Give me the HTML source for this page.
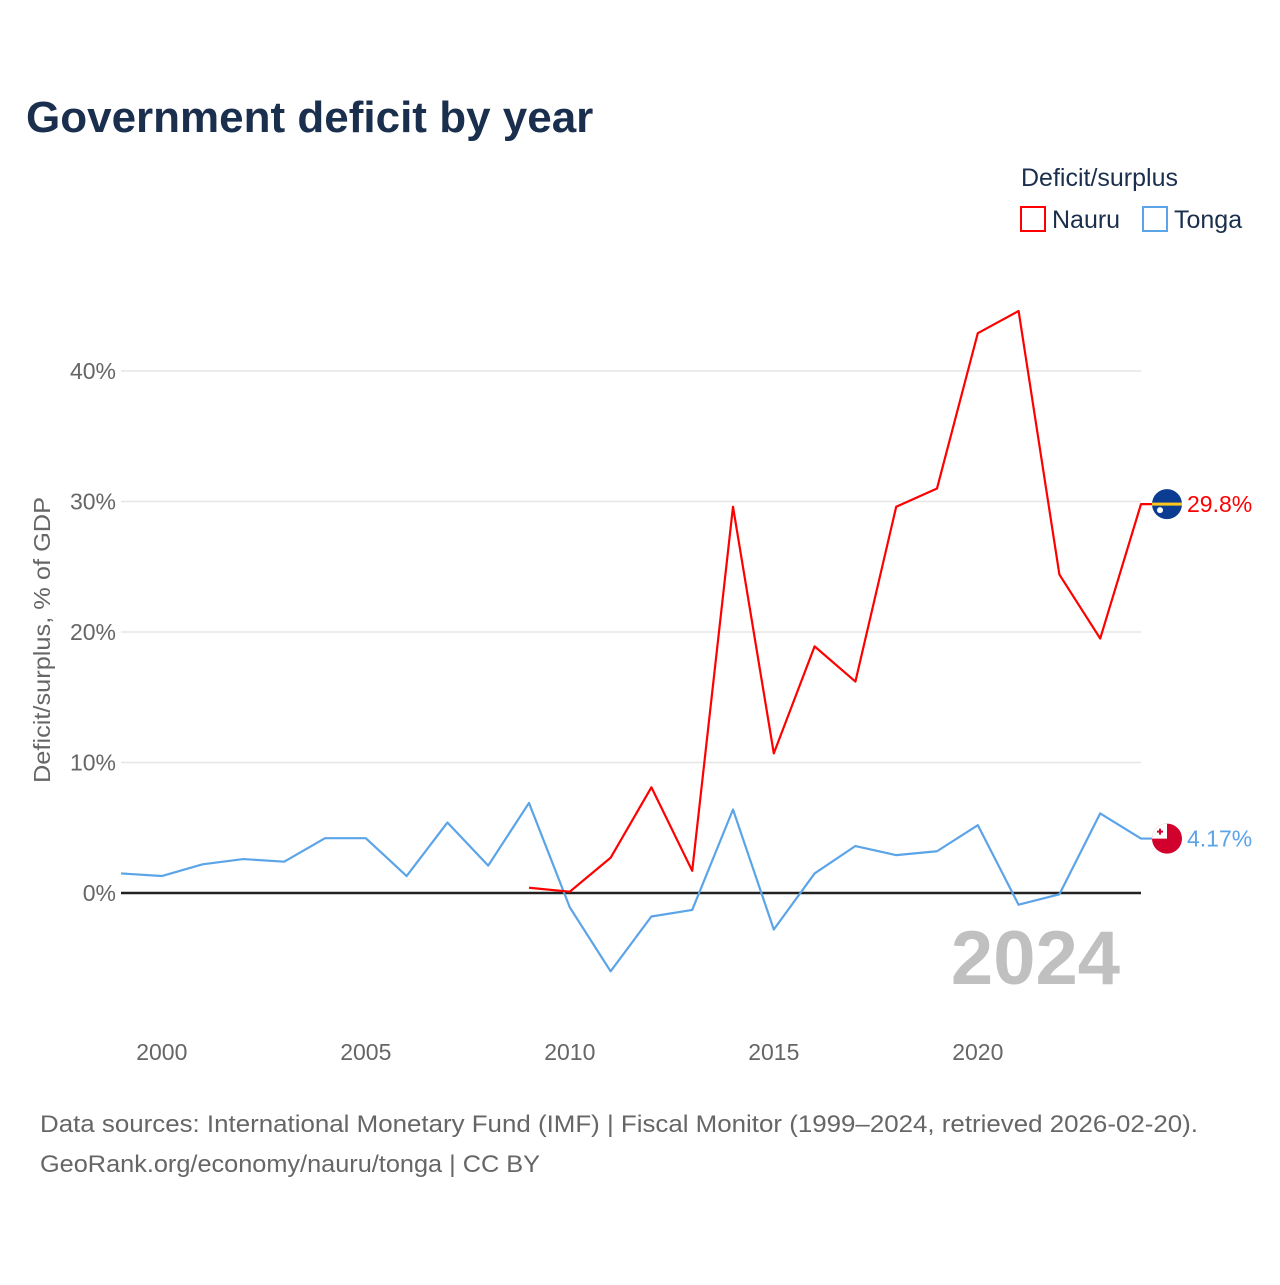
<!DOCTYPE html>
<html><head><meta charset="utf-8"><style>
body{margin:0;background:#fff;font-family:"Liberation Sans",sans-serif;}
</style></head><body>
<svg width="1280" height="1280" xmlns="http://www.w3.org/2000/svg" style="font-family:'Liberation Sans',sans-serif">
<rect width="1280" height="1280" fill="#fff"/>
<text x="26" y="132" font-size="44" font-weight="bold" fill="#1a2e4d">Government deficit by year</text>
<text x="1021" y="186" font-size="25" fill="#1a2e4d">Deficit/surplus</text>
<g><rect x="1021" y="207" width="24" height="24" fill="none" stroke="#ff0000" stroke-width="2"/><text x="1052" y="228" font-size="25" fill="#1a2e4d">Nauru</text></g>
<g><rect x="1143" y="207" width="24" height="24" fill="none" stroke="#5ba4e8" stroke-width="2"/><text x="1174" y="228" font-size="25" fill="#1a2e4d">Tonga</text></g>
<text transform="translate(50,640) rotate(-90)" text-anchor="middle" font-size="23" fill="#666" textLength="286" lengthAdjust="spacingAndGlyphs">Deficit/surplus, % of GDP</text>
<g id="grid"></g><g id="yticks"></g><g id="xticks"></g>
<text x="1120" y="984" text-anchor="end" font-size="76" font-weight="bold" fill="#c0c0c0">2024</text>
<g id="series"></g>
<text x="40" y="1132" font-size="24" fill="#666" textLength="1158" lengthAdjust="spacingAndGlyphs">Data sources: International Monetary Fund (IMF) | Fiscal Monitor (1999–2024, retrieved 2026-02-20).</text>
<text x="40" y="1172" font-size="24" fill="#666" textLength="500" lengthAdjust="spacingAndGlyphs">GeoRank.org/economy/nauru/tonga | CC BY</text>
</svg>
<script>
const years=[1999,2000,2001,2002,2003,2004,2005,2006,2007,2008,2009,2010,2011,2012,2013,2014,2015,2016,2017,2018,2019,2020,2021,2022,2023,2024];
const tonga=[1.5,1.3,2.2,2.6,2.4,4.2,4.2,1.3,5.4,2.1,6.9,-1.1,-6.0,-1.8,-1.3,6.4,-2.8,1.5,3.6,2.9,3.2,5.2,-0.9,-0.1,6.1,4.17];
const nauruYears=[2009,2010,2011,2012,2013,2014,2015,2016,2017,2018,2019,2020,2021,2022,2023,2024];
const nauru=[0.4,0.1,2.7,8.1,1.7,29.6,10.7,18.9,16.2,29.6,31.0,42.9,44.6,24.4,19.5,29.8];
const yTicks=[0,10,20,30,40];
const xTicks=[2000,2005,2010,2015,2020];
const NS="http://www.w3.org/2000/svg";
const X=y=>121+(y-1999)*40.8;
const Y=v=>893-v*13.05;
function mk(t,a,p){const e=document.createElementNS(NS,t);for(const k in a)e.setAttribute(k,a[k]);p.appendChild(e);return e;}
const grid=document.getElementById('grid'),yt=document.getElementById('yticks'),xt=document.getElementById('xticks'),se=document.getElementById('series');
yTicks.forEach(v=>{
 const l=mk('line',{x1:121,x2:1141,y1:Y(v),y2:Y(v),stroke:v===0?'#222':'#e6e6e6','stroke-width':v===0?2.5:1.5},grid);
 
 
 const t=mk('text',{x:116,y:Y(v)+8,'text-anchor':'end','font-size':23,fill:'#666'},yt);
 t.textContent=v+'%';
 
 
});
xTicks.forEach(y=>{
 const t=mk('text',{x:X(y),y:1060,'text-anchor':'middle','font-size':23,fill:'#666'},xt);
 t.textContent=y;
 
 
});
function line(xs,vs,c,name){
 const pts=xs.map((y,i)=>X(y)+','+Y(vs[i]));
 pts.push((X(xs[xs.length-1])+11)+','+Y(vs[vs.length-1]));
 const p=mk('polyline',{points:pts.join(' '),fill:'none',stroke:c,'stroke-width':2.2,'stroke-linejoin':'round'},se);
 
 
}
line(years,tonga,'#5ba4e8','tonga-line');
line(nauruYears,nauru,'#ff0000','nauru-line');
const nv=nauru[nauru.length-1],tv=tonga[tonga.length-1];
const f1=mk('g',{},se);


mk('circle',{cx:1167,cy:Y(nv),r:15,fill:'#0a3d91'},f1);
mk('rect',{x:1152,y:Y(nv)-1.5,width:30,height:3,fill:'#ffc61e'},f1);
mk('circle',{cx:1160,cy:Y(nv)+6,r:3,fill:'#fff'},f1);
const l1=mk('text',{x:1187,y:Y(nv)+8,'font-size':23,fill:'#ff0000'},se);
l1.textContent=nv.toFixed(1)+'%';


const f2=mk('g',{},se);


mk('circle',{cx:1167,cy:Y(tv),r:15,fill:'#d2002d'},f2);
mk('path',{d:`M1152 ${Y(tv)} A15 15 0 0 1 1167 ${Y(tv)-15} L1167 ${Y(tv)} Z`,fill:'#fff'},f2);
mk('path',{d:`M1160 ${Y(tv)-10} v6 M1157 ${Y(tv)-7} h6`,stroke:'#d2002d','stroke-width':2},f2);
const l2=mk('text',{x:1187,y:Y(tv)+8,'font-size':23,fill:'#5ba4e8'},se);
l2.textContent=tv+'%';


</script>
</body></html>
